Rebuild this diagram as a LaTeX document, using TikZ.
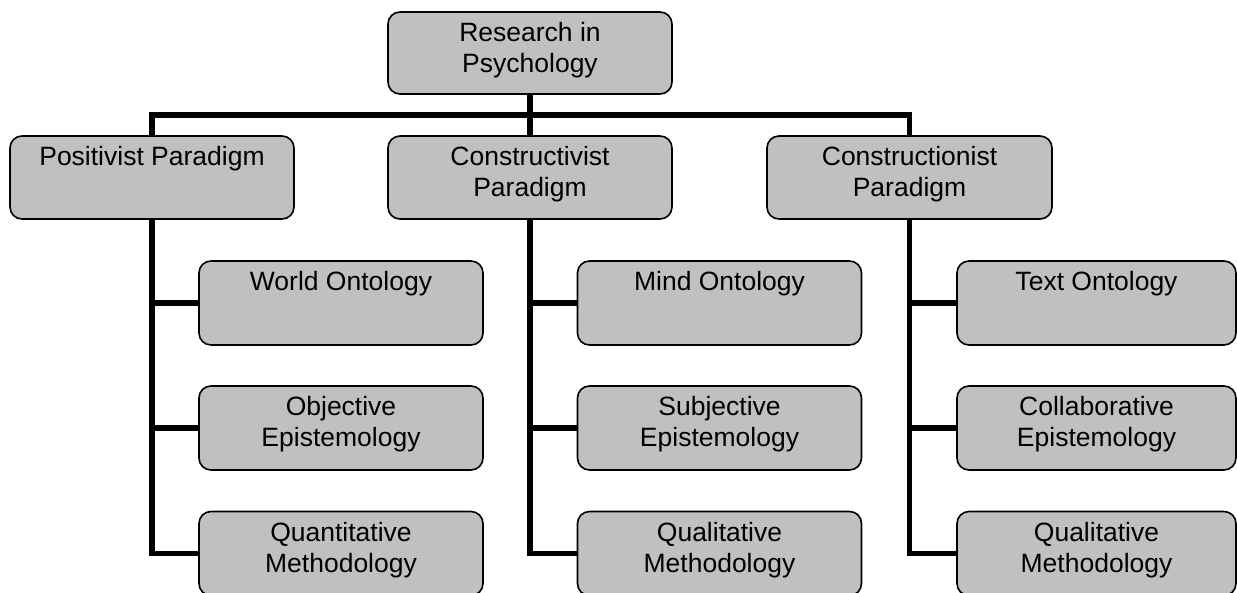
\documentclass[tikz,border=0pt]{standalone}
\usepackage{fontspec}
\setmainfont{Liberation Sans}
\definecolor{boxgray}{RGB}{192,192,192}
\newcommand\bt[3]{\parbox[c][#2][t]{#1}{\centering\fontsize{26.5pt}{31pt}\selectfont\rule{0pt}{29.5pt}#3\par}}
\tikzset{
  pbox/.style={draw=black, line width=1.6pt, fill=boxgray, rounded corners=12pt, inner sep=0pt, shape=rectangle},
  conn/.style={draw=black, line width=5.5pt}
}
\begin{document}
\begin{tikzpicture}[x=1pt,y=-1pt]
\useasboundingbox (0,0) rectangle (1237,592);
% top levels
\node[pbox] (root) at (530,53) {\bt{284pt}{82pt}{Research in\\Psychology}};
\node[pbox] (pos) at (152,177.5) {\bt{284pt}{83pt}{Positivist Paradigm}};
\node[pbox] (cvt) at (530,177.5) {\bt{284pt}{83pt}{Constructivist\\Paradigm}};
\node[pbox] (cnt) at (909.5,177.5) {\bt{285pt}{83pt}{Constructionist\\Paradigm}};
% children positivist
\node[pbox] (p1) at (341,303) {\bt{284pt}{84pt}{World Ontology}};
\node[pbox] (p2) at (341,428) {\bt{284pt}{84pt}{Objective\\Epistemology}};
\node[pbox] (p3) at (341,553.5) {\bt{284pt}{84pt}{Quantitative\\Methodology}};
% children constructivist
\node[pbox] (v1) at (719.5,303) {\bt{284pt}{84pt}{Mind Ontology}};
\node[pbox] (v2) at (719.5,428) {\bt{284pt}{84pt}{Subjective\\Epistemology}};
\node[pbox] (v3) at (719.5,553.5) {\bt{284pt}{84pt}{Qualitative\\Methodology}};
% children constructionist
\node[pbox] (n1) at (1096.5,303) {\bt{279pt}{84pt}{Text Ontology}};
\node[pbox] (n2) at (1096.5,428) {\bt{279pt}{84pt}{Collaborative\\Epistemology}};
\node[pbox] (n3) at (1096.5,553.5) {\bt{279pt}{84pt}{Qualitative\\Methodology}};
% connectors
\coordinate (bar) at (530,115);
\draw[conn] (root.south) -- (cvt.north);
\draw[conn] (pos.north) |- (bar) -| (cnt.north);
\draw[conn] (pos.south) |- (p3.west);
\draw[conn] (pos.south |- p1.west) -- (p1.west);
\draw[conn] (pos.south |- p2.west) -- (p2.west);
\draw[conn] (cvt.south) |- (v3.west);
\draw[conn] (cvt.south |- v1.west) -- (v1.west);
\draw[conn] (cvt.south |- v2.west) -- (v2.west);
\draw[conn] (cnt.south) |- (n3.west);
\draw[conn] (cnt.south |- n1.west) -- (n1.west);
\draw[conn] (cnt.south |- n2.west) -- (n2.west);
\end{tikzpicture}
\end{document}
